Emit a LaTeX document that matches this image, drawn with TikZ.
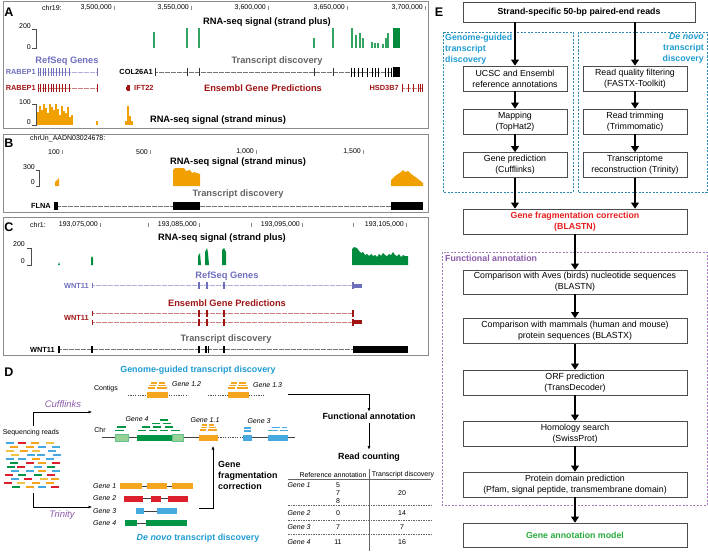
\documentclass[tikz,border=0pt]{standalone}
\usepackage{fontspec}
\setmainfont{Liberation Sans}
\usetikzlibrary{arrows.meta,positioning,calc}
\definecolor{framegray}{RGB}{140,140,140}
\definecolor{refseq}{RGB}{110,110,190}
\definecolor{ensembl}{RGB}{160,20,20}
\definecolor{tdgray}{RGB}{100,100,100}
\definecolor{sigplus}{RGB}{0,140,60}
\definecolor{sigminus}{RGB}{240,160,0}
\definecolor{ggblue}{RGB}{30,155,210}
\definecolor{dnpurple}{RGB}{140,90,170}
\definecolor{fragred}{RGB}{230,30,30}
\definecolor{modelgreen}{RGB}{40,170,60}
\definecolor{readorange}{RGB}{245,165,30}
\definecolor{readred}{RGB}{220,30,45}
\definecolor{readblue}{RGB}{70,170,225}
\definecolor{readgreen}{RGB}{0,150,70}
\definecolor{readlight}{RGB}{150,210,150}
\definecolor{read1}{RGB}{220,30,45}
\definecolor{read2}{RGB}{245,165,30}
\definecolor{read3}{RGB}{0,150,70}
\definecolor{read4}{RGB}{70,170,225}
\definecolor{read5}{RGB}{240,195,70}

\begin{document}
\begin{tikzpicture}[x=1pt,y=-1pt,
    panlab/.style={font=\fontsize{12.5}{14}\selectfont\bfseries,inner sep=0},
    axlab/.style={font=\fontsize{7}{8}\selectfont,anchor=east,inner sep=0},
    tracklab/.style={font=\fontsize{9.3}{11}\selectfont\bfseries,inner sep=0},
    genelab/.style={font=\fontsize{7.4}{9}\selectfont\bfseries,anchor=east,inner sep=0},
    frm/.style={draw=framegray,line width=0.8pt},
    intron/.style={draw=#1!55,line width=0.9pt,dash pattern=on 0.6pt off 0.6pt},
    dtitle/.style={font=\fontsize{8.9}{10}\selectfont\bfseries,text=ggblue,inner sep=0},
    dsmall/.style={font=\fontsize{7}{8}\selectfont,inner sep=0},
    dgene/.style={font=\fontsize{7}{8}\selectfont\itshape,inner sep=0},
    dbold/.style={font=\fontsize{8.9}{11}\selectfont\bfseries,inner sep=1pt},
    tool/.style={font=\fontsize{9.5}{11}\selectfont\itshape,text=dnpurple,inner sep=0},
    dashline/.style={black!70,line width=0.7pt,dash pattern=on 1.2pt off 1.2pt},
    chrline/.style={black!75,line width=0.8pt},
    rd/.style={line width=1.5pt},
    thinarrow/.style={line width=0.6pt,-{Latex[length=3.5pt,width=3pt]}},
    ebox/.style={draw=black!70,line width=0.6pt,minimum width=104pt,minimum height=25pt,
      align=center,inner sep=1pt,font=\fontsize{8.8}{11}\selectfont},
    bigarrow/.style={line width=2pt,-{Triangle[width=7.5pt,length=6pt]}},
    ehead/.style={font=\fontsize{8.8}{11}\selectfont\bfseries,inner sep=0}]
  \useasboundingbox (0,0) rectangle (708,551);

  % ================= panel A
  \draw[frm] (3,1) rectangle (428,128);
  \node[panlab] at (9,12) {A};
  \node[axlab,anchor=west] at (42,8) {chr19:};
  \foreach \x/\l in {114/{3,500,000},191/{3,550,000},268/{3,600,000},347/{3,650,000},425/{3,700,000}} {
    \draw[framegray] (\x,6) -- (\x,10);
    \node[axlab] at (\x-2,8) {\l};
  }
  \node[tracklab] at (267,22) {RNA-seq signal (strand plus)};
  \node[axlab] at (31,26) {200};
  \node[axlab] at (31,47) {0};
  \draw[black!70] (32,29) -- (36,29) -- (36,48) -- (32,48);
  % plus strand signal
  \foreach \x/\t in {154/32,187/28,199/28,314/38,333/28,352/28,356/35,360/33,363/38,
                     372/42,375/43,378/43,383/44,386/38,388/33}
    \fill[sigplus!80] (\x-0.6,\t) rectangle (\x+0.6,48);
  \fill[sigplus] (393,28) rectangle (400,48);
  % gene tracks
  \node[tracklab,refseq] at (67,61) {RefSeq Genes};
  \node[tracklab,tdgray] at (277,61) {Transcript discovery};
  \node[genelab,refseq] at (36,72) {RABEP1};
  \draw[intron=refseq] (38,72) -- (97,72);
  \foreach \x in {38,40,43,45,48,51,53,56,59,62,65,69,97}
    \draw[refseq,line width=0.7pt] (\x,68) -- (\x,76);
  \node[genelab] at (153,71.5) {COL26A1};
  \draw[intron=black] (155,72) -- (393,72);
  \foreach \x in {155,187,199,314,333}
    \draw[black!80,line width=0.6pt] (\x,68) -- (\x,76);
  \foreach \x in {351,354,358,362,367,372,375,378,385,388,391}
    \draw[line width=0.8pt] (\x,67.5) -- (\x,76.5);
  \fill (393,67) rectangle (400,77);
  \node[genelab,ensembl] at (36,88) {RABEP1};
  \draw[intron=ensembl] (38,88) -- (97,88);
  \foreach \x in {38,40,43,45,48,51,53,56,59,62,65,69,97}
    \draw[ensembl,line width=0.7pt] (\x,84) -- (\x,92);
  \fill[ensembl] (127,85) rectangle (130,91);
  \draw[ensembl,line width=0.6pt] (126,86.5) -- (126,89.5);
  \node[genelab,ensembl,anchor=west] at (134,88) {IFT22};
  \node[tracklab,ensembl] at (263,88) {Ensembl Gene Predictions};
  \node[genelab,ensembl] at (399,88) {HSD3B7};
  \draw[intron=ensembl] (402,88) -- (422,88);
  \foreach \x in {402,408,413,418,420,422}
    \draw[ensembl,line width=0.7pt] (\x,84) -- (\x,92);
  % minus strand signal
  \node[axlab] at (31,102) {100};
  \node[axlab] at (31,122) {0};
  \draw[black!70] (32,104) -- (36,104) -- (36,125) -- (32,125);
  \foreach \x/\t in {38/112,40/106,42/110,44/104,46/108,48/113,50/104,52/107,54/110,
                     56/104,58/109,60/115,62/106,64/111,66/113,68/107,70/117,72/115,
                     97/121,126/121,128/106,130/116,132/121}
    \fill[sigminus] (\x-0.6,\t) rectangle (\x+0.6,125);
  \node[tracklab] at (218,120) {RNA-seq signal (strand minus)};

  % ================= panel B
  \draw[frm] (3,134) rectangle (428,212);
  \node[panlab] at (9,143) {B};
  \node[axlab,anchor=west] at (30,139) {chrUn\_AADN03024678:};
  \foreach \x/\l in {62/100,150/500,256/{1,000},363/{1,500}} {
    \draw[framegray] (\x,150) -- (\x,154);
    \node[axlab] at (\x-2,152) {\l};
  }
  \node[tracklab] at (238,162) {RNA-seq signal (strand minus)};
  \node[axlab] at (35,167) {300};
  \node[axlab] at (35,182) {0};
  \draw[black!70] (36,170) -- (39,170) -- (39,186) -- (36,186);
  \fill[sigminus] (55,186) -- (55,182) -- (57,180) -- (59,178) -- (59,186) -- cycle;
  \fill[sigminus] (173,186) -- (173,170) -- (175,168) -- (184,168) -- (186,171) -- (190,170)
    -- (192,173) -- (194,172) -- (200,174) -- (200,186) -- cycle;
  \fill[sigminus] (391,186) -- (391,180) -- (395,176) -- (398,174) -- (401,172) -- (403,170)
    -- (405,172) -- (408,171) -- (411,174) -- (414,176) -- (418,179) -- (423,183) -- (423,186) -- cycle;
  \node[tracklab,tdgray] at (238,194) {Transcript discovery};
  \node[genelab] at (51,206) {FLNA};
  \draw[intron=black] (58,206) -- (391,206);
  \fill (54,202) rectangle (58,210);
  \fill (173,202) rectangle (200,210);
  \fill (391,202) rectangle (423,210);

  % ================= panel C
  \draw[frm] (3,217) rectangle (428,355);
  \node[panlab] at (9,227) {C};
  \node[axlab,anchor=west] at (30,225) {chr1:};
  \foreach \x in {100,148,199,251,302,353,406}
    \draw[framegray] (\x,223) -- (\x,227);
  \foreach \x/\l in {100/{193,075,000},199/{193,085,000},302/{193,095,000},406/{193,105,000}}
    \node[axlab] at (\x-2,225) {\l};
  \node[tracklab] at (222,238) {RNA-seq signal (strand plus)};
  \node[axlab] at (25,244) {200};
  \node[axlab] at (25,261) {0};
  \draw[black!70] (27,248) -- (31,248) -- (31,265) -- (27,265);
  \fill[sigplus] (58,265) -- (59,262) -- (60,265) -- cycle;
  \fill[sigplus] (91,265) -- (91,258) -- (92,256) -- (93,258) -- (93,265) -- cycle;
  \fill[sigplus] (198,265) -- (198,256) -- (200,253) -- (201,265) -- cycle;
  \fill[sigplus] (205,265) -- (205,252) -- (207,248) -- (208,253) -- (209,265) -- cycle;
  \fill[sigplus] (222,265) -- (222,250) -- (224,248) -- (226,252) -- (226,265) -- cycle;
  \fill[sigplus] (352,265) -- (352,249) -- (354,247) -- (357,248) -- (359,251) -- (361,253)
    -- (363,252) -- (365,255) -- (367,254) -- (369,256) -- (371,254) -- (373,256) -- (375,255)
    -- (377,257) -- (379,254) -- (381,256) -- (383,253) -- (385,255) -- (387,256) -- (389,254)
    -- (391,255) -- (393,252) -- (395,255) -- (397,256) -- (399,254) -- (401,257) -- (403,255)
    -- (405,256) -- (408,256) -- (408,265) -- cycle;
  \node[tracklab,refseq] at (227,276) {RefSeq Genes};
  \node[genelab,refseq] at (89,285.5) {WNT11};
  \draw[intron=refseq] (92,285.5) -- (353,285.5);
  \draw[refseq,line width=0.8pt] (92,283) -- (92,288);
  \foreach \x in {199,207,224}
    \fill[refseq] (\x-1.2,282) rectangle (\x+1.2,289);
  \fill[refseq] (352,282) rectangle (354,289);
  \fill[refseq] (354,283.5) rectangle (362,287.5);
  \node[tracklab,ensembl] at (227,303) {Ensembl Gene Predictions};
  \node[genelab,ensembl] at (89,318) {WNT11};
  \foreach \y in {313,322} {
    \draw[intron=ensembl] (92,\y) -- (353,\y);
    \draw[ensembl,line width=0.8pt] (92,\y-2.5) -- (92,\y+2.5);
    \foreach \x in {199,207,224}
      \fill[ensembl] (\x-1.2,\y-3.5) rectangle (\x+1.2,\y+3.5);
    \fill[ensembl] (352,\y-3.5) rectangle (354,\y+3.5);
  }
  \fill[ensembl] (354,320) rectangle (362,324);
  \node[tracklab,tdgray] at (226,339) {Transcript discovery};
  \node[genelab] at (55,349.5) {WNT11};
  \draw[intron=black] (59,349.5) -- (353,349.5);
  \foreach \x in {59,92,199,206,208.5,224}
    \fill (\x-0.8,346) rectangle (\x+0.8,353);
  \fill (353,346) rectangle (408,353);

  % ================= panel D
  \node[panlab] at (9,372) {D};
  \node[dtitle] (ggtitle) at (198,370) {Genome-guided transcript discovery};
  \node[dsmall] (contigs) at (106,389) {Contigs};
  % contig with gene 1.2 and gene 1.3
  \draw[dashline] (128,395) -- (188,395);
  \fill[readorange] (147,392) rectangle (168,398);
  \draw[dashline] (208,395) -- (265,395);
  \fill[readorange] (228,392) rectangle (249,398);
  \foreach \a/\b/\y in {151/157/383,159/165/383,149/156/385.5,158/166/385.5,148/155/388,157/167/388,
                        231/237/383,239/246/383,229/236/385.5,238/247/385.5,228/235/388,237/248/388}
    \draw[rd,readorange] (\a,\y) -- (\b,\y);
  \node[dgene,anchor=west] at (172,384) {Gene 1.2};
  \node[dgene,anchor=west] at (253,385) {Gene 1.3};
  % chromosome
  \node[dsmall] (chr) at (100,430) {Chr};
  \draw[chrline] (102,437.5) -- (218,437.5);
  \draw[dashline] (218,437.5) -- (243,437.5);
  \draw[chrline] (243,437.5) -- (295,437.5);
  \filldraw[fill=readlight,draw=readgreen!60] (115,434.5) rectangle (128,441);
  \fill[readgreen] (137,434.5) rectangle (172,441);
  \filldraw[fill=readlight,draw=readgreen!60] (172,434.5) rectangle (183,441);
  \fill[readorange] (199,434.5) rectangle (218,441);
  \fill[readblue] (243,434.5) rectangle (252,441);
  \fill[readblue] (268,434.5) rectangle (288,441);
  \foreach \a/\b/\y in {117/126/427,115/124/430.5,160/168/420,152/160/423.5,163/171/423.5,
                        142/150/427,153/161/427,165/173/427,138/146/430.5,149/157/430.5,
                        160/168/430.5,171/180/430.5}
    \draw[rd,readgreen] (\a,\y) -- (\b,\y);
  \foreach \a/\b/\y in {202/207/425,209/214/425,201/207/427.5,209/216/427.5,200/206/430,208/217/430}
    \draw[rd,readorange] (\a,\y) -- (\b,\y);
  \foreach \a/\b/\y in {244/251/428,244/251/431,272/280/427.5,282/287/427.5,268/278/430.5,280/288/430.5}
    \draw[rd,readblue] (\a,\y) -- (\b,\y);
  \node[dgene] at (137,419) {Gene 4};
  \node[dgene] at (205,420) {Gene 1.1};
  \node[dgene] at (259,421) {Gene 3};
  % sequencing reads
  \node[dsmall] (seqreads) at (31,433) {Sequencing reads};
  \pgfmathsetseed{11}
  \foreach \r in {0,...,11} {
    \foreach \k in {0,...,3} {
      \pgfmathsetmacro{\xx}{3+\k*14+mod(\r,2)*6+rnd*4}
      \pgfmathsetmacro{\yy}{442+\r*4}
      \pgfmathrandominteger{\cc}{1}{5}
      \fill[fill=read\cc] (\xx,\yy) rectangle ++(8,1.6);
    }
  }
  \coordinate (readstop) at (33,426);
  \coordinate (chrin) at (92,412);
  \coordinate (readsbot) at (33,493);
  \coordinate (dnin) at (92,507);
  \draw[thinarrow] (readstop) |- (chrin);
  \draw[thinarrow] (readsbot) |- (dnin);
  \node[tool] at (63,404) {Cufflinks};
  \node[tool] at (62,515) {Trinity};
  % de novo genes
  \foreach \y/\n in {486/1,498.5/2,511/3,523/4}
    \node[dgene,anchor=west] at (93,\y) {Gene \n};
  \draw[black!75,line width=0.7pt] (120,486) -- (193,486);
  \foreach \a/\b in {120/142,147/167,172/193} \fill[readorange] (\a,483) rectangle (\b,489);
  \draw[black!75,line width=0.7pt] (124,498.5) -- (188,498.5);
  \foreach \a/\b in {124/143,151/161,168/188} \fill[readred] (\a,495.5) rectangle (\b,501.5);
  \draw[black!75,line width=0.7pt] (136,511) -- (177,511);
  \foreach \a/\b in {136/144,157/177} \fill[readblue] (\a,508) rectangle (\b,514);
  \draw[black!75,line width=0.7pt] (125,523) -- (187,523);
  \foreach \a/\b in {125/137,146/187} \fill[readgreen] (\a,520) rectangle (\b,526);
  % fragmentation correction
  \coordinate (fragstart) at (199,508);
  \coordinate (g11) at (213,446);
  \draw[thinarrow] (fragstart) -| (g11);
  \node[dbold,anchor=north west,align=left,inner sep=0] (fraglab) at (218,461) {Gene\\fragmentation\\correction};
  \node[dtitle] (dntitle) at (198,538) {\textit{De novo} transcript discovery};
  % annotation and counting
  \coordinate (contigend) at (288,394);
  \node[dbold] (funcann) at (369,416) {Functional annotation};
  \node[dbold] (readcount) at (369,457) {Read counting};
  \draw[thinarrow] (contigend) -| (funcann.north);
  \draw[thinarrow,shorten <=3pt,shorten >=2pt] (funcann.south) -- (readcount.north);
  % table
  \node[dsmall] (refann) at (333,475) {Reference annotation};
  \node[dsmall] (trdisc) at (403,475) {Transcript discovery};
  \draw[black!60,line width=0.6pt] (288,479) -- (431,479);
  \draw[black!60,line width=0.8pt] (369,469) -- (369,551);
  \foreach \y in {505.5,520,534.5}
    \draw[black!60,line width=0.6pt,dash pattern=on 1.5pt off 1pt] (288,\y) -- (431,\y);
  \foreach \y/\n/\a/\b in {485/1/5/{},513/2/0/14,527/3/7/7,542/4/11/16} {
    \node[dgene] at (299,\y) {Gene \n};
    \node[dsmall] at (338,\y) {\a};
    \node[dsmall] at (402,\y) {\b};
  }
  \node[dsmall] at (338,493) {7};
  \node[dsmall] at (338,501.5) {8};
  \node[dsmall] at (402,493) {20};

  % ================= panel E
  \node[panlab] at (439,12) {E};
  \node[ebox,minimum width=232pt,minimum height=20pt,font=\fontsize{8.8}{11}\selectfont\bfseries] (rawreads) at (579,12) {Strand-specific 50-bp paired-end reads};
  \draw[ggblue!80!black!90,line width=0.7pt,dash pattern=on 2pt off 1.5pt] (443,32) rectangle (573,192);
  \draw[ggblue!80!black!90,line width=0.7pt,dash pattern=on 2pt off 1.5pt] (578,32) rectangle (707,192);
  \node[ehead,text=ggblue,anchor=north west,align=left] at (445,33.5) {Genome-guided\\transcript\\discovery};
  \node[ehead,text=ggblue,anchor=north east,align=right] at (704,33.5) {\textit{De novo}\\transcript\\discovery};
  \node[ebox] (ucsc) at (515,78.5) {UCSC and Ensembl\\reference annotations};
  \node[ebox] (mapping) at (515,121.5) {Mapping\\(TopHat2)};
  \node[ebox] (genepred) at (515,165) {Gene prediction\\(Cufflinks)};
  \node[ebox] (qfilter) at (635,78.5) {Read quality filtering\\(FASTX-Toolkit)};
  \node[ebox] (trimming) at (635,121.5) {Read trimming\\(Trimmomatic)};
  \node[ebox] (reconst) at (635,165) {Transcriptome\\reconstruction (Trinity)};
  \node[ebox,minimum width=224pt,font=\fontsize{8.8}{11}\selectfont\bfseries,text=fragred] (fragcorr) at (575,221.5) {Gene fragmentation correction\\(BLASTN)};
  \draw[bigarrow] (rawreads.south -| ucsc) -- (ucsc.north);
  \draw[bigarrow] (rawreads.south -| qfilter) -- (qfilter.north);
  \draw[bigarrow] (ucsc) -- (mapping);
  \draw[bigarrow] (mapping) -- (genepred);
  \draw[bigarrow] (qfilter) -- (trimming);
  \draw[bigarrow] (trimming) -- (reconst);
  \draw[bigarrow] (genepred.south) -- (genepred.south |- fragcorr.north);
  \draw[bigarrow] (reconst.south) -- (reconst.south |- fragcorr.north);
  % functional annotation
  \draw[dnpurple!80,line width=0.7pt,dash pattern=on 2pt off 1.5pt] (442,252) rectangle (707,505);
  \node[ehead,text=dnpurple,anchor=west] at (445,258.5) {Functional annotation};
  \node[ebox,minimum width=224pt,minimum height=24pt] (aves) at (575,282) {Comparison with Aves (birds) nucleotide sequences\\(BLASTN)};
  \node[ebox,minimum width=224pt] (mammals) at (575,331) {Comparison with mammals (human and mouse)\\protein sequences (BLASTX)};
  \node[ebox,minimum width=224pt] (orf) at (575,382.5) {ORF prediction\\(TransDecoder)};
  \node[ebox,minimum width=224pt] (homology) at (575,433.5) {Homology search\\(SwissProt)};
  \node[ebox,minimum width=224pt] (domain) at (575,484.5) {Protein domain prediction\\(Pfam, signal peptide, transmembrane domain)};
  \node[ebox,minimum width=224pt,minimum height=24pt,font=\fontsize{8.8}{11}\selectfont\bfseries,text=modelgreen] (model) at (575,535) {Gene annotation model};
  \draw[bigarrow] (fragcorr) -- (aves);
  \draw[bigarrow] (aves) -- (mammals);
  \draw[bigarrow] (mammals) -- (orf);
  \draw[bigarrow] (orf) -- (homology);
  \draw[bigarrow] (homology) -- (domain);
  \draw[bigarrow] (domain) -- (model);
\end{tikzpicture}
\end{document}
